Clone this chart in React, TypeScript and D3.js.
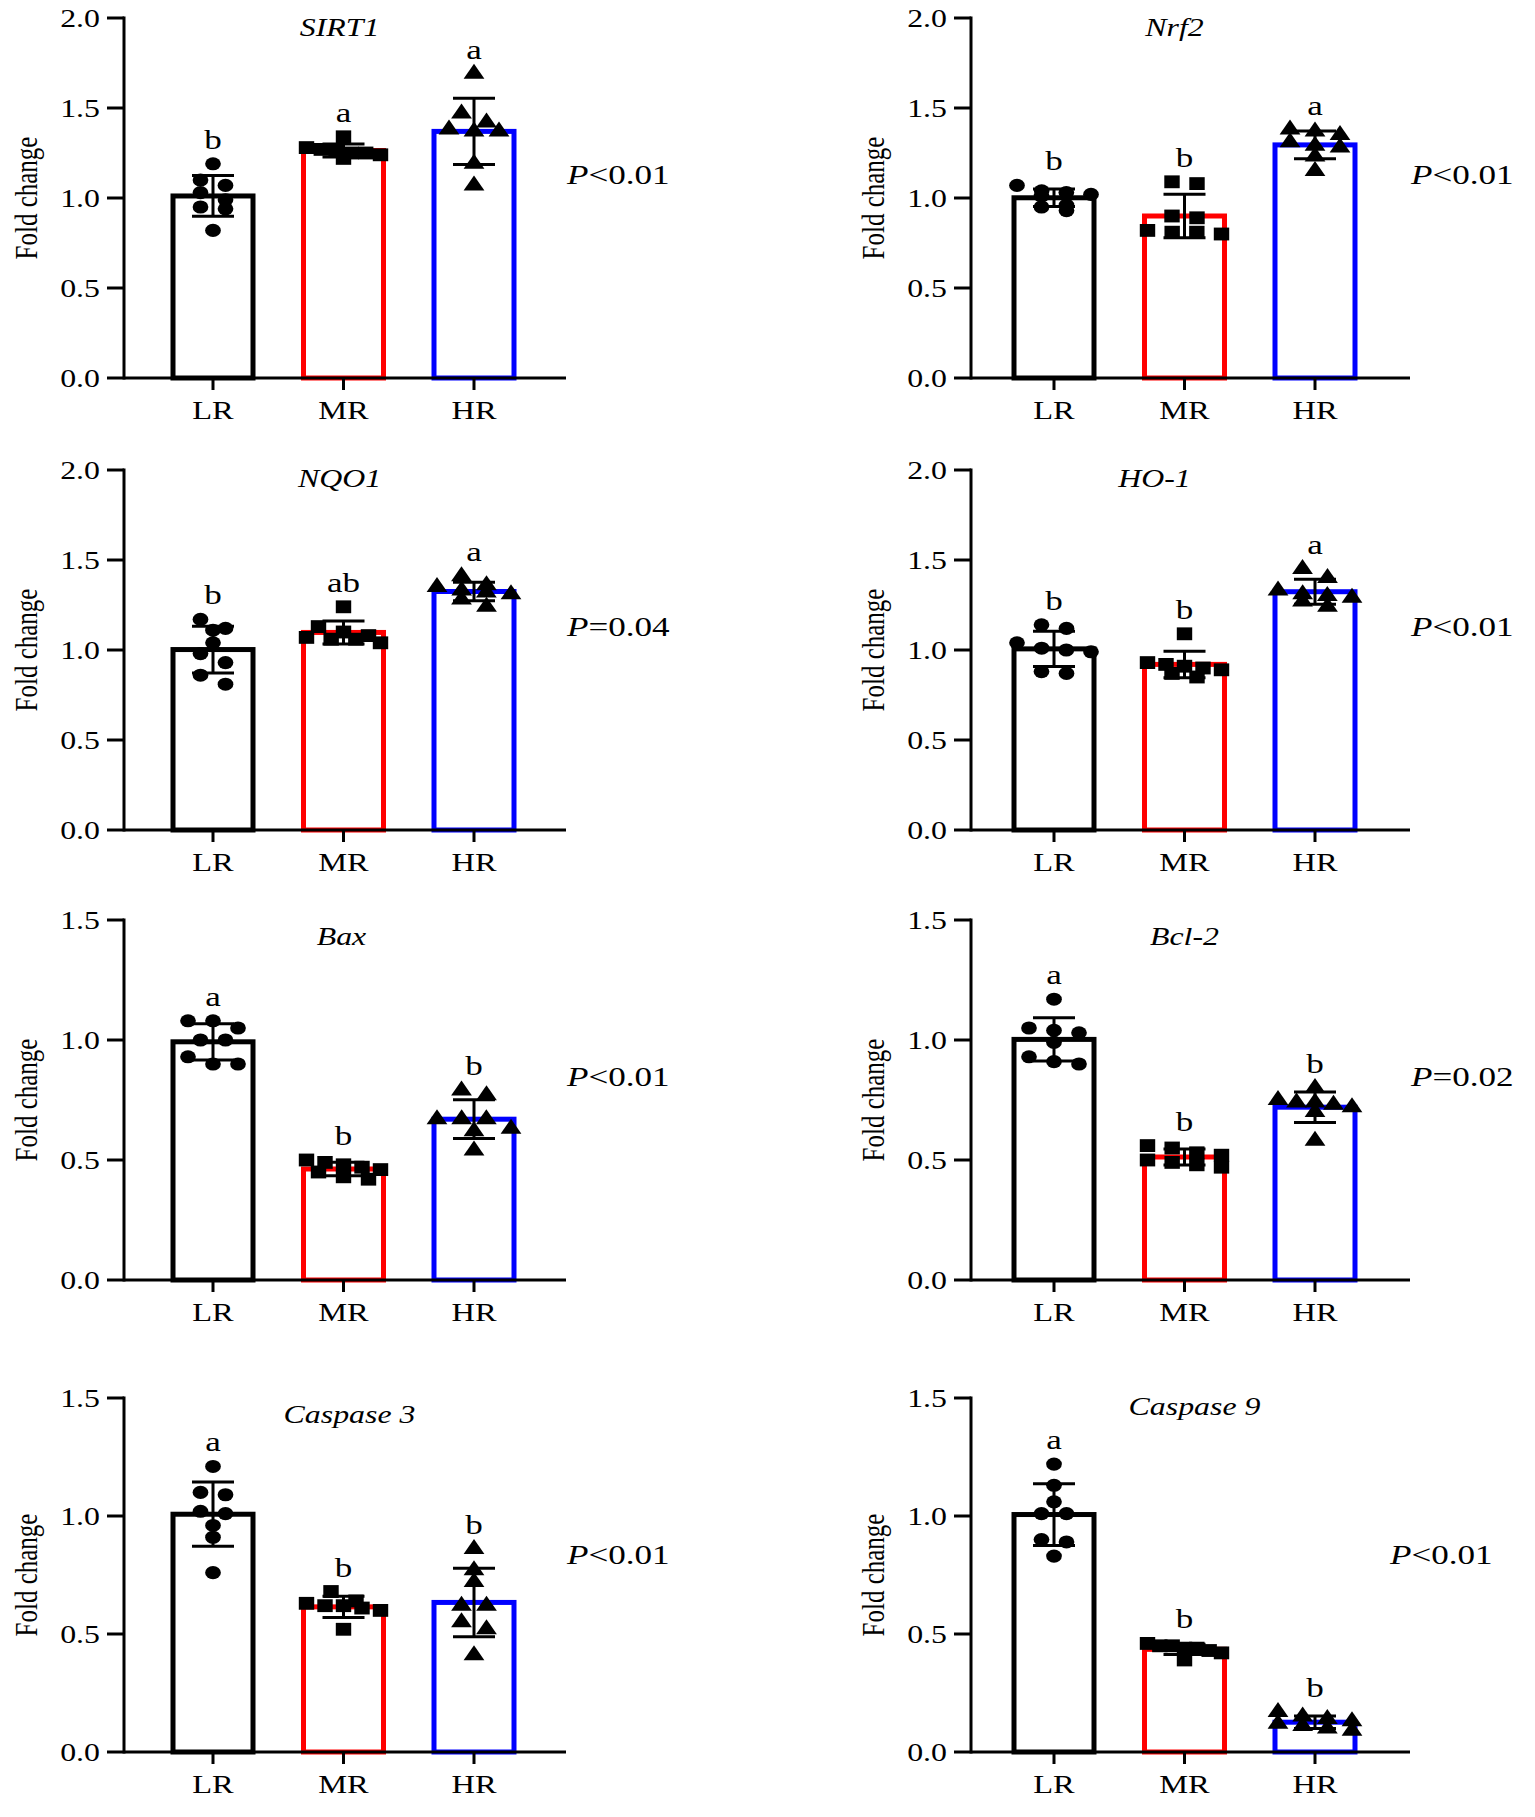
import React from "react";
import * as d3 from "d3";

// ---------- data ----------
const categories = ["LR", "MR", "HR"];
const genes = ["SIRT1", "Nrf2", "NQO1", "HO-1", "Bax", "Bcl-2", "Caspase 3", "Caspase 9"];

const sirt1 = [
  [1.19, 1.1, 1.07, 1.03, 0.95, 0.94, 0.82, 0.99],
  [1.34, 1.27, 1.26, 1.25, 1.28, 1.22, 1.25, 1.24],
  [1.69, 1.47, 1.42, 1.38, 1.37, 1.37, 1.19, 1.07],
];
const nrf2 = [
  [1.07, 1.04, 1.03, 1.02, 1.01, 0.96, 0.95, 0.93],
  [1.09, 1.08, 0.9, 0.89, 0.82, 0.81, 0.81, 0.8],
  [1.38, 1.37, 1.35, 1.31, 1.29, 1.28, 1.23, 1.15],
];
const nqo1 = [
  [1.17, 1.12, 1.11, 1.04, 0.98, 0.93, 0.86, 0.81],
  [1.24, 1.13, 1.1, 1.08, 1.07, 1.06, 1.06, 1.04],
  [1.41, 1.36, 1.35, 1.33, 1.32, 1.31, 1.28, 1.24],
];
const ho1 = [
  [1.14, 1.12, 1.04, 1.01, 1.0, 0.99, 0.88, 0.87],
  [1.09, 0.93, 0.92, 0.91, 0.9, 0.89, 0.87, 0.85],
  [1.45, 1.4, 1.33, 1.31, 1.3, 1.29, 1.27, 1.24],
];
const bax = [
  [1.08, 1.08, 1.05, 1.0, 1.0, 0.93, 0.9, 0.9],
  [0.5, 0.49, 0.48, 0.47, 0.46, 0.45, 0.43, 0.42],
  [0.79, 0.77, 0.67, 0.67, 0.67, 0.63, 0.62, 0.54],
];
const bcl2 = [
  [1.17, 1.05, 1.04, 1.03, 0.99, 0.93, 0.91, 0.9],
  [0.56, 0.55, 0.53, 0.52, 0.5, 0.49, 0.48, 0.47],
  [0.8, 0.75, 0.74, 0.74, 0.73, 0.72, 0.7, 0.58],
];
const casp3 = [
  [1.21, 1.1, 1.09, 1.02, 1.01, 0.96, 0.91, 0.76],
  [0.68, 0.64, 0.63, 0.62, 0.62, 0.61, 0.6, 0.52],
  [0.86, 0.77, 0.72, 0.62, 0.62, 0.55, 0.52, 0.41],
];
const casp9 = [
  [1.22, 1.13, 1.06, 1.01, 1.01, 0.9, 0.89, 0.83],
  [0.46, 0.45, 0.45, 0.44, 0.44, 0.43, 0.42, 0.39],
  [0.17, 0.15, 0.14, 0.13, 0.12, 0.11, 0.1, 0.09],
];
const values = [sirt1, nrf2, nqo1, ho1, bax, bcl2, casp3, casp9];

const letters = [
  ["b", "a", "a"],
  ["b", "b", "a"],
  ["b", "ab", "a"],
  ["b", "b", "a"],
  ["a", "b", "b"],
  ["a", "b", "b"],
  ["a", "b", "b"],
  ["a", "b", "b"],
];
const pSigns = ["<", "<", "=", "<", "<", "=", "<", "<"];
const pNumbers = ["0.01", "0.01", "0.04", "0.01", "0.01", "0.02", "0.01", "0.01"];
const yMaxes = [2.0, 2.0, 2.0, 2.0, 1.5, 1.5, 1.5, 1.5];

// ---------- layout / style ----------
const W = 1535;
const H = 1817;
const colX = [
  { x0: 124, x1: 566, catOff: 89 },
  { x0: 971, x1: 1410, catOff: 83 },
];
const rowY = [
  { top: 18, bottom: 378, titleDy: 18 },
  { top: 470, bottom: 830, titleDy: 17 },
  { top: 920, bottom: 1280, titleDy: 25 },
  { top: 1398, bottom: 1752, titleDy: 25 },
];
const titleDx = [-4, -10, -4, -30, -2, 0, 6, 10];
const titleDyExtra = [0, 0, 0, 0, 0, 0, 0, -8];
const pDx = [0, 0, 0, 0, 0, 0, 0, -21];
const barColors = ["#000000", "#ff0000", "#0000ff"];
const shapes = [d3.symbolCircle, d3.symbolSquare, d3.symbolTriangle];
const shapeSizes = [135, 165, 130];
const SX = 1.3;
const FONT = "'Liberation Serif', 'Times New Roman', Times, serif";

function mean(a: number[]) {
  return d3.mean(a) as number;
}
function sd(a: number[]) {
  return d3.deviation(a) as number;
}

function swarm(vals: number[], y: (v: number) => number) {
  const idx = vals.map((v, i) => i).sort((a, b) => vals[b] - vals[a]);
  const groups: number[][] = [];
  let cur: number[] = [];
  let startPy = 0;
  idx.forEach((i) => {
    const py = y(vals[i]);
    if (cur.length === 0 || Math.abs(py - startPy) > 10) {
      if (cur.length) groups.push(cur);
      cur = [i];
      startPy = py;
    } else cur.push(i);
  });
  if (cur.length) groups.push(cur);
  const off: number[] = new Array(vals.length).fill(0);
  groups.forEach((g) => {
    const n = g.length;
    const step = n > 1 ? Math.min(25, 74 / (n - 1)) : 0;
    g.forEach((i, k) => {
      off[i] = (k - (n - 1) / 2) * step;
    });
  });
  return off;
}

function T({ x, y, children, size, anchor = "middle", italic = false }: any) {
  return (
    <text
      transform={`translate(${x},${y}) scale(${SX},1)`}
      textAnchor={anchor}
      fontSize={size}
      fontFamily={FONT}
      fontStyle={italic ? "italic" : "normal"}
      fill="#000"
    >
      {children}
    </text>
  );
}

function Panel({ gi }: { gi: number }) {
  const col = colX[gi % 2];
  const row = rowY[Math.floor(gi / 2)];
  const data = values[gi];
  const y = d3.scaleLinear().domain([0, yMaxes[gi]]).range([row.bottom, row.top]);
  const x = d3
    .scalePoint<string>()
    .domain(categories)
    .range([col.x0 + col.catOff, col.x0 + col.catOff + 261]);
  const ticks = y.ticks(yMaxes[gi] / 0.5);
  const fmt = d3.format(".1f");
  const halfBar = 40;
  const midY = (row.top + row.bottom) / 2;

  return (
    <g>
      {/* bars */}
      {categories.map((c, ci) => {
        const m = mean(data[ci]);
        const cx = x(c) as number;
        return (
          <rect
            key={"bar" + c}
            x={cx - halfBar}
            y={y(m)}
            width={halfBar * 2}
            height={y(0) - y(m)}
            fill="#fff"
            stroke={barColors[ci]}
            strokeWidth={5}
          />
        );
      })}
      {/* axes */}
      <line x1={col.x0} x2={col.x0} y1={row.top - 1.5} y2={row.bottom + 1.5} stroke="#000" strokeWidth={3} />
      <line x1={col.x0} x2={col.x1} y1={row.bottom} y2={row.bottom} stroke="#000" strokeWidth={3} />
      {ticks.map((t) => (
        <g key={"t" + t}>
          <line x1={col.x0 - 17} x2={col.x0} y1={y(t)} y2={y(t)} stroke="#000" strokeWidth={3} />
          <T x={col.x0 - 24} y={y(t) + 8.5} size={24.5} anchor="end">
            {fmt(t)}
          </T>
        </g>
      ))}
      {categories.map((c) => (
        <g key={"xt" + c}>
          <line x1={x(c)} x2={x(c)} y1={row.bottom} y2={row.bottom + 12} stroke="#000" strokeWidth={3} />
          <T x={x(c)} y={row.bottom + 41} size={25}>
            {c}
          </T>
        </g>
      ))}
      {/* points */}
      {categories.map((c, ci) => {
        const off = swarm(data[ci], y);
        const path = d3.symbol().type(shapes[ci]).size(shapeSizes[ci])() as string;
        const cx = x(c) as number;
        return (
          <g key={"pts" + c}>
            {data[ci].map((v, i) => (
              <path
                key={i}
                d={path}
                transform={`translate(${cx + off[i]},${y(v)}) scale(1.2,1)`}
                fill="#000"
              />
            ))}
          </g>
        );
      })}
      {/* error bars */}
      {categories.map((c, ci) => {
        const m = mean(data[ci]);
        const s = sd(data[ci]);
        const cx = x(c) as number;
        return (
          <g key={"eb" + c} stroke="#000" strokeWidth={3}>
            <line x1={cx} x2={cx} y1={y(m + s)} y2={y(m - s)} />
            <line x1={cx - 21} x2={cx + 21} y1={y(m + s)} y2={y(m + s)} />
            <line x1={cx - 21} x2={cx + 21} y1={y(m - s)} y2={y(m - s)} />
          </g>
        );
      })}
      {/* significance letters */}
      {categories.map((c, ci) => {
        const m = mean(data[ci]);
        const s = sd(data[ci]);
        const mx = d3.max(data[ci]) as number;
        const topY = Math.min(y(mx) - 7, y(m + s));
        return (
          <T key={"l" + c} x={x(c)} y={topY - 8} size={27}>
            {letters[gi][ci]}
          </T>
        );
      })}
      {/* title */}
      <T
        x={(x("MR") as number) + titleDx[gi]}
        y={row.top + row.titleDy + titleDyExtra[gi]}
        size={24.5}
        italic
      >
        {genes[gi]}
      </T>
      {/* y label */}
      <text
        transform={`translate(${col.x0 - 98},${midY}) scale(${SX},1) rotate(-90)`}
        textAnchor="middle"
        dy="0.33em"
        fontSize={25}
        fontFamily={FONT}
        fill="#000"
      >
        Fold change
      </text>
      {/* P value */}
      <text
        transform={`translate(${col.x1 + 1 + pDx[gi]},${row.top + 166}) scale(${SX},1)`}
        fontSize={27}
        fontFamily={FONT}
        fill="#000"
      >
        <tspan fontStyle="italic">P</tspan>
        <tspan>{pSigns[gi] + pNumbers[gi]}</tspan>
      </text>
    </g>
  );
}

export default function App() {
  return (
    <svg
      width={W}
      height={H}
      viewBox={`0 0 ${W} ${H}`}
      style={{ position: "absolute", left: 0, top: 0, background: "#fff" }}
    >
      <rect x={0} y={0} width={W} height={H} fill="#fff" />
      {genes.map((g, gi) => (
        <Panel key={g} gi={gi} />
      ))}
    </svg>
  );
}
